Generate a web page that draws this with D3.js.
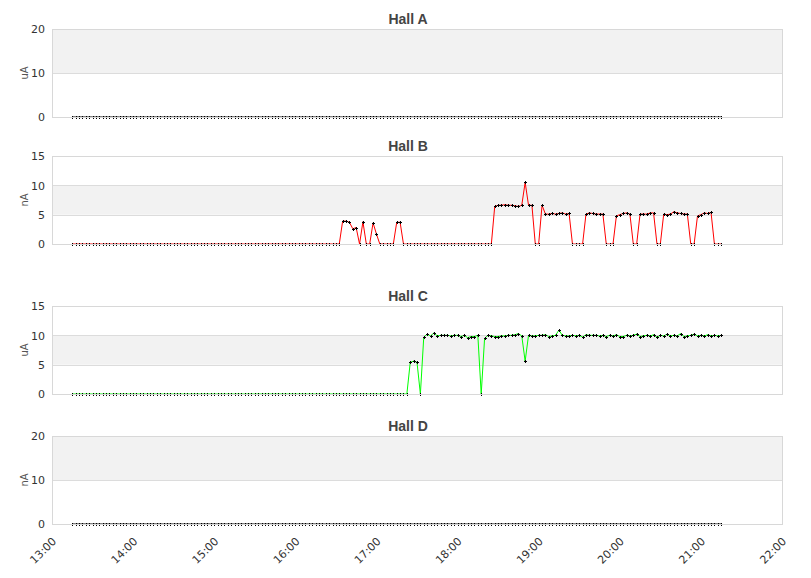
<!DOCTYPE html>
<html>
<head>
<meta charset="utf-8">
<script src="https://cdn.jsdelivr.net/npm/d3@7"></script>
<style>
  body { margin: 0; background: #fff; }
  text { font-family: "DejaVu Sans", sans-serif; }
  text.title { font-family: "Liberation Sans", Arial, sans-serif; font-weight: bold; }
</style>
</head>
<body>
<svg width="811" height="578"></svg>
<script>
// sample times: one reading every 2.5 minutes from 13:15 to 21:15
const startTime = "13:15";
const stepMinutes = 2.5;

const hallA = [
  0,0,0,0,0,0,0,0,0,0,0,0,0,0,0,0,0,0,0,0,
  0,0,0,0,0,0,0,0,0,0,0,0,0,0,0,0,0,0,0,0,
  0,0,0,0,0,0,0,0,0,0,0,0,0,0,0,0,0,0,0,0,
  0,0,0,0,0,0,0,0,0,0,0,0,0,0,0,0,0,0,0,0,
  0,0,0,0,0,0,0,0,0,0,0,0,0,0,0,0,0,0,0,0,
  0,0,0,0,0,0,0,0,0,0,0,0,0,0,0,0,0,0,0,0,
  0,0,0,0,0,0,0,0,0,0,0,0,0,0,0,0,0,0,0,0,
  0,0,0,0,0,0,0,0,0,0,0,0,0,0,0,0,0,0,0,0,
  0,0,0,0,0,0,0,0,0,0,0,0,0,0,0,0,0,0,0,0,
  0,0,0,0,0,0,0,0,0,0,0,0,0
];

const hallB = [
  0,0,0,0,0,0,0,0,0,0,0,0,0,0,0,0,0,0,0,0,
  0,0,0,0,0,0,0,0,0,0,0,0,0,0,0,0,0,0,0,0,
  0,0,0,0,0,0,0,0,0,0,0,0,0,0,0,0,0,0,0,0,
  0,0,0,0,0,0,0,0,0,0,0,0,0,0,0,0,0,0,0,0,
  3.9,3.9,3.7,2.6,2.8,0,3.8,0,0,3.6,1.7,0,0,0,0,0,3.7,3.7,0,0,
  0,0,0,0,0,0,0,0,0,0,0,0,0,0,0,0,0,0,0,0,
  0,0,0,0,0,6.4,6.6,6.6,6.7,6.6,6.6,6.5,6.4,6.6,10.5,6.6,6.6,0,0,6.6,
  5.1,5.1,5.2,5.1,5.2,5.3,5.1,5.2,0,0,0,0,5.1,5.3,5.2,5.1,5.1,5.1,0,0,
  0,4.8,5.0,5.2,5.3,5.1,0,0,5.1,5.1,5.1,5.3,5.3,0,0,5.1,5.0,5.1,5.5,5.3,
  5.2,5.1,5.1,0,0,4.8,5.0,5.3,5.2,5.4,0,0,0
];

const hallC = [
  0,0,0,0,0,0,0,0,0,0,0,0,0,0,0,0,0,0,0,0,
  0,0,0,0,0,0,0,0,0,0,0,0,0,0,0,0,0,0,0,0,
  0,0,0,0,0,0,0,0,0,0,0,0,0,0,0,0,0,0,0,0,
  0,0,0,0,0,0,0,0,0,0,0,0,0,0,0,0,0,0,0,0,
  0,0,0,0,0,0,0,0,0,0,0,0,0,0,0,0,0,0,0,0,
  5.4,5.6,5.4,0,9.7,10.2,9.9,10.4,9.9,10.0,10.0,10.0,9.9,10.0,10.0,9.8,10.0,9.6,9.8,9.8,
  10.0,0,9.5,10.0,9.9,9.8,9.8,9.9,9.9,10.0,10.0,10.1,10.3,9.9,5.6,10.0,9.9,9.9,10.0,10.0,
  10.1,9.8,9.9,10.0,10.9,10.0,9.9,9.9,10.0,9.9,10.0,9.7,10.1,10.0,10.0,10.0,9.9,10.0,9.8,10.0,
  9.9,10.1,9.8,9.8,10.0,9.9,10.0,10.2,9.8,9.9,10.0,9.9,10.1,9.7,10.0,9.9,10.2,9.9,10.0,9.9,
  10.3,9.8,9.9,10.0,10.2,9.9,10.0,9.9,10.1,9.9,10.0,9.9,10.0
];

const hallD = [
  0,0,0,0,0,0,0,0,0,0,0,0,0,0,0,0,0,0,0,0,
  0,0,0,0,0,0,0,0,0,0,0,0,0,0,0,0,0,0,0,0,
  0,0,0,0,0,0,0,0,0,0,0,0,0,0,0,0,0,0,0,0,
  0,0,0,0,0,0,0,0,0,0,0,0,0,0,0,0,0,0,0,0,
  0,0,0,0,0,0,0,0,0,0,0,0,0,0,0,0,0,0,0,0,
  0,0,0,0,0,0,0,0,0,0,0,0,0,0,0,0,0,0,0,0,
  0,0,0,0,0,0,0,0,0,0,0,0,0,0,0,0,0,0,0,0,
  0,0,0,0,0,0,0,0,0,0,0,0,0,0,0,0,0,0,0,0,
  0,0,0,0,0,0,0,0,0,0,0,0,0,0,0,0,0,0,0,0,
  0,0,0,0,0,0,0,0,0,0,0,0,0
];

const titles = ["Hall A", "Hall B", "Hall C", "Hall D"];
const units = ["uA", "nA", "uA", "nA"];
const yTicks = [[0, 10, 20], [0, 5, 10, 15], [0, 5, 10, 15], [0, 10, 20]];
const xTicks = ["13:00", "14:00", "15:00", "16:00", "17:00", "18:00", "19:00", "20:00", "21:00", "22:00"];

const series = [hallA, hallB, hallC, hallD];
const lineColors = ["#000", "#ff0000", "#00ff00", "#000"];
const panelTops = [29, 156, 306, 436];
const panelH = 88;
const left = 52, right = 782;

const parse = d3.timeParse("%H:%M");
const t0 = parse(startTime);

const x = d3.scaleTime()
    .domain([parse(xTicks[0]), parse(xTicks[xTicks.length - 1])])
    .range([left, right]);

const svg = d3.select("svg");

series.forEach(function (vals, p) {
    const top = panelTops[p];
    const ticks = yTicks[p];
    const y = d3.scaleLinear().domain([0, ticks[ticks.length - 1]]).range([top + panelH, top]);
    const data = vals.map((v, i) => ({ t: new Date(+t0 + i * stepMinutes * 60000), v: v }));

    const g = svg.append("g");

    // alternate bands
    for (let k = 0; k < ticks.length - 1; k++) {
        if (k % 2 === 1) {
            g.append("rect")
                .attr("x", left).attr("width", right - left)
                .attr("y", y(ticks[k + 1])).attr("height", y(ticks[k]) - y(ticks[k + 1]))
                .attr("fill", "#f2f2f2");
        }
    }

    // grid lines
    g.selectAll(".grid").data(ticks.slice(1)).join("line")
        .attr("x1", left).attr("x2", right)
        .attr("y1", d => Math.round(y(d)) + 0.5).attr("y2", d => Math.round(y(d)) + 0.5)
        .attr("stroke", "#dcdcdc");

    // y tick labels
    g.selectAll(".ytick").data(ticks).join("text")
        .attr("x", left - 7).attr("y", d => y(d) + 0.5).attr("dy", "0.35em")
        .attr("text-anchor", "end")
        .attr("font-size", 11).attr("fill", "#333")
        .text(d => d);

    // unit label
    g.append("text")
        .attr("transform", "translate(28," + (top + panelH / 2) + ") rotate(-90)")
        .attr("text-anchor", "middle")
        .attr("font-size", 10).attr("fill", "#555")
        .text(units[p]);

    // title
    g.append("text")
        .attr("class", "title")
        .attr("x", 408).attr("y", top - 5)
        .attr("text-anchor", "middle")
        .attr("font-size", 14).attr("fill", "#444")
        .text(titles[p]);

    // data line
    const line = d3.line().x(d => x(d.t)).y(d => y(d.v));
    g.append("path").datum(data)
        .attr("d", line)
        .attr("fill", "none")
        .attr("stroke", lineColors[p])
        .attr("stroke-width", 1);

    // point markers
    g.selectAll(".pt").data(data).join("path")
        .attr("transform", d => "translate(" + (Math.round(x(d.t)) + 0.5) + "," + (Math.round(y(d.v)) + 0.5) + ")")
        .attr("d", "M-1.5,0h3M0,-1.5v3")
        .attr("stroke", "#000")
        .attr("stroke-width", 1)
        .attr("shape-rendering", "crispEdges");

    // frame
    g.append("rect")
        .attr("x", left + 0.5).attr("y", top + 0.5)
        .attr("width", right - left).attr("height", panelH)
        .attr("fill", "none").attr("stroke", "#d8d8d8")
        .attr("shape-rendering", "crispEdges");
});

// x axis labels under the last panel
const bottom = panelTops[3] + panelH;
svg.selectAll(".xtick").data(xTicks).join("text")
    .attr("transform", d => "translate(" + (x(parse(d)) + 5) + "," + (bottom + 18) + ") rotate(-45)")
    .attr("text-anchor", "end")
    .attr("font-size", 11).attr("fill", "#333")
    .text(d => d);
</script>
</body>
</html>
